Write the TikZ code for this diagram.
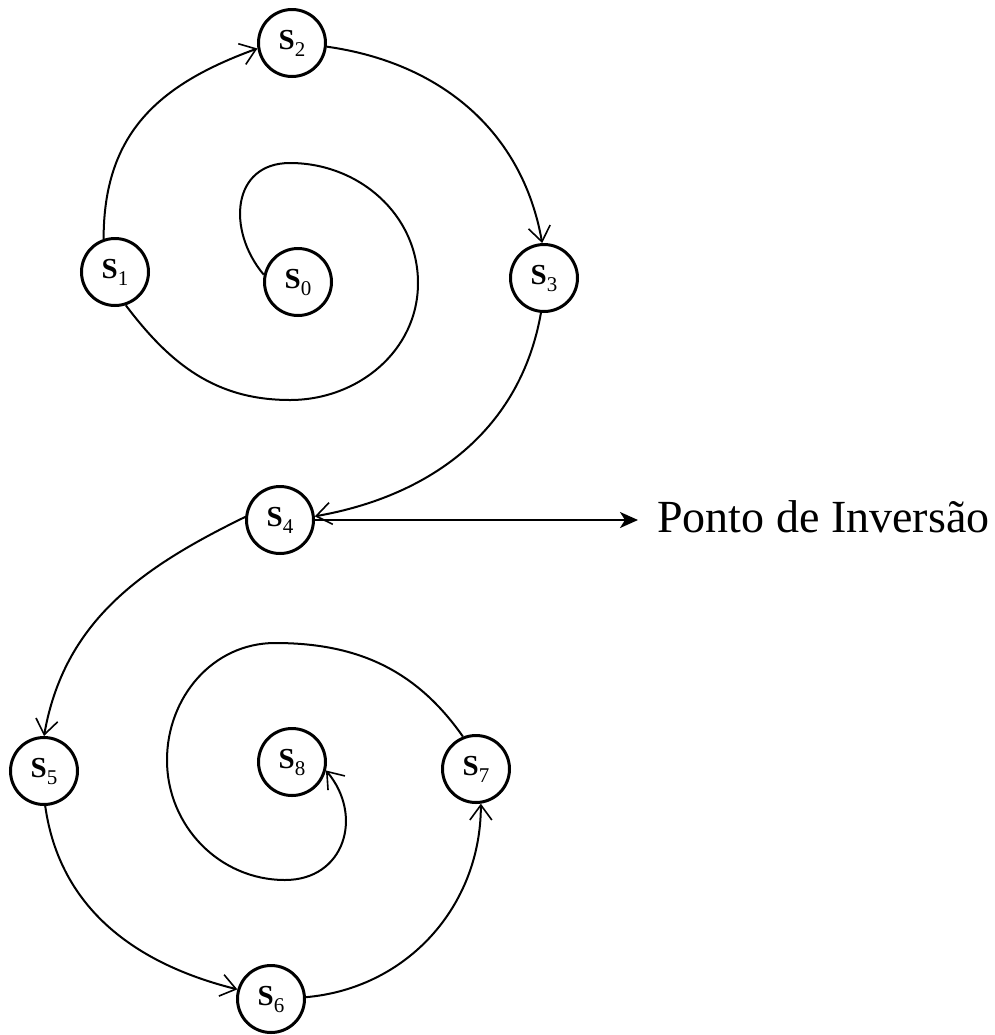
\documentclass[tikz,border=0pt]{standalone}
\usepackage{fontspec}
\setmainfont{Liberation Serif}
\usetikzlibrary{arrows.meta}
\newcommand{\slab}[1]{\fontsize{14.5pt}{15pt}\selectfont\textbf{S}\raisebox{-3.5pt}{\fontsize{10.5pt}{10.5pt}\selectfont #1}}
\tikzset{
  stt/.style={circle, draw, line width=1.5pt, minimum size=33.5pt, inner sep=0pt},
  conn/.style={line width=1pt},
  arr/.style={conn, -{Straight Barb[length=7.5pt,width=11pt,line width=0.8pt]}},
  bigarr/.style={line width=1.1pt, -{Stealth[length=9pt,width=8pt,inset=2.5pt]}},
}
\begin{document}
\begin{tikzpicture}[x=0.5pt,y=0.5pt]
\useasboundingbox (0,0) rectangle (995,-1035);
% states
\node[stt] (s0) at (298,-282) {\slab{0}};
\node[stt] (s1) at (115,-272) {\slab{1}};
\node[stt] (s2) at (292,-43) {\slab{2}};
\node[stt] (s3) at (544,-278) {\slab{3}};
\node[stt] (s4) at (280,-520) {\slab{4}};
\node[stt] (s5) at (44,-771) {\slab{5}};
\node[stt] (s6) at (271,-999) {\slab{6}};
\node[stt] (s7) at (476,-769) {\slab{7}};
\node[stt] (s8) at (292,-762) {\slab{8}};
\node[anchor=base west, inner sep=0pt, font=\fontsize{23pt}{27pt}\selectfont] (ponto) at (657,-532) {Ponto de Inversão};
% waypoints of the spirals
\coordinate (c01a) at (290,-163);
\coordinate (c01b) at (418,-283);
\coordinate (c01c) at (290,-400);
\coordinate (c78a) at (275,-643);
\coordinate (c78b) at (167,-760);
\coordinate (c78c) at (285,-880);
% connectors
\draw[conn] (s0.168) to[out=130,in=180,looseness=1.3] (c01a) to[out=0,in=90] (c01b)
  to[out=-90,in=0] (c01c) to[out=180,in=-53] (s1.-72);
\draw[arr] (s1.109) to[out=90,in=200,looseness=1.1] (s2.189);
\draw[arr] (s2.-6) to[out=-8,in=100] (s3.93);
\draw[arr] (s3.-95) to[out=-100,in=10] (s4.6);
\draw[bigarr, shorten >=9.5pt] (s4.east) -- (s4.east -| ponto.west);
\draw[arr] (s4.175) to[out=206,in=80] (s5.90);
\draw[arr] (s5.-88) to[out=-82,in=166] (s6.164);
\draw[arr] (s6.3) to[out=5,in=-90] (s7.-82);
\draw[arr] (s7.112) to[out=125,in=0] (c78a) to[out=180,in=90] (c78b)
  to[out=-90,in=180] (c78c) to[out=0,in=-50,looseness=1.3] (s8.-14);
\end{tikzpicture}
\end{document}
